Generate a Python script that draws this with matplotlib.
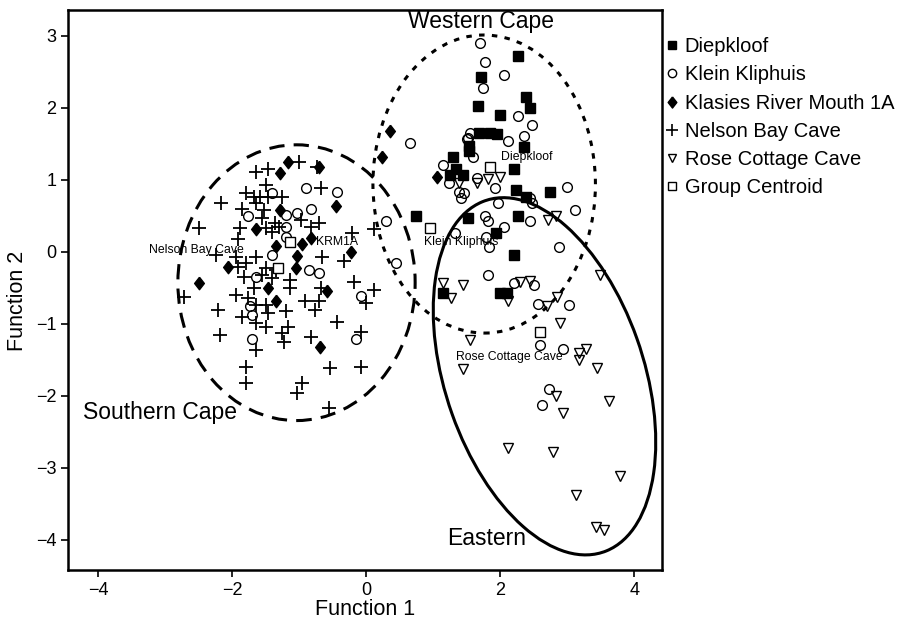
import matplotlib.pyplot as plt
from matplotlib.patches import Ellipse
from matplotlib.lines import Line2D

plt.rcParams['font.family'] = ['Liberation Sans', 'DejaVu Sans']

# Discriminant function scores per site
diep_x = [2.27, 1.71, 2.38, 2.44, 1.67, 2.00, 1.68, 1.85, 1.95, 1.53, 2.35, 1.53, 1.29, 1.34,
          1.25, 1.44, 2.20, 2.24, 2.38, 2.74, 0.75, 1.52, 2.26, 1.94, 2.21, 1.14, 2.00, 2.10]
diep_y = [2.72, 2.42, 2.15, 1.99, 2.03, 1.90, 1.65, 1.65, 1.64, 1.47, 1.46, 1.40, 1.31, 1.15,
          1.07, 1.07, 1.15, 0.86, 0.76, 0.83, 0.49, 0.47, 0.50, 0.26, -0.04, -0.57, -0.58, -0.57]

klein_x = [1.70, 1.77, 2.06, 1.74, 2.26, 2.48, 2.36, 2.12, 0.65, 1.55, 1.52, 1.50, 1.59, 1.14,
           1.23, 1.65, 1.92, 1.38, 1.46, 1.41, 1.97, 2.45, 2.47, 3.00, 0.30, 1.77, 1.82, 2.44,
           2.06, 1.32, 1.79, 1.83, 2.87, 0.45, 1.82, 3.11, 2.21, 2.51, 2.56, 3.02, 2.59, 2.93,
           2.72, 2.62, -0.86, -0.71, -0.08, -0.15, -0.90, -0.44, -0.83, -1.04, -1.19, -1.19,
           -1.41, -1.76, -1.20, -1.41, -1.65, -1.73, -1.71, -1.71]
klein_y = [2.90, 2.64, 2.46, 2.28, 1.88, 1.76, 1.61, 1.54, 1.51, 1.65, 1.58, 1.56, 1.32, 1.21,
           0.96, 1.03, 0.89, 0.83, 0.81, 0.74, 0.68, 0.75, 0.68, 0.90, 0.42, 0.49, 0.43, 0.43,
           0.35, 0.26, 0.21, 0.07, 0.07, -0.15, -0.32, 0.58, -0.43, -0.46, -0.73, -0.74, -1.29,
           -1.35, -1.90, -2.13, -0.25, -0.29, -0.61, -1.21, 0.89, 0.83, 0.60, 0.54, 0.51, 0.35,
           0.82, 0.49, 0.21, -0.04, -0.35, -0.76, -0.88, -1.21]

krm_x = [-1.16, -1.28, -0.71, 0.24, -0.45, -1.28, -0.83, -0.96, -1.35, -0.23, -1.04, -1.05,
         -1.65, -2.06, -2.50, -1.47, -1.34, -0.59, -0.69, 0.35, 1.05]
krm_y = [1.25, 1.10, 1.18, 1.32, 0.64, 0.58, 0.19, 0.11, 0.08, 0.00, -0.06, -0.22,
         0.31, -0.21, -0.44, -0.50, -0.68, -0.55, -1.32, 1.68, 1.04]

nbc_x = [-1.64, -1.46, -1.01, -0.74, -1.49, -0.68, -1.80, -1.68, -1.58, -1.46, -1.26, -2.17,
         -1.64, -1.86, -1.53, -1.55, -0.98, -0.71, -1.36, -0.83, -1.49, -1.30, -2.49, -1.88,
         -1.41, -0.21, 0.12, -1.92, -2.24, -1.94, -1.79, -1.64, -1.91, -1.83, -1.56, -1.49,
         -1.35, -0.66, -0.33, -1.13, -1.41, -0.18, -2.72, -1.95, -2.21, -1.76, -1.65, -1.86,
         -1.50, -1.46, -1.68, -1.14, -0.68, -0.71, -0.77, -0.92, -1.19, 0.12, 0.00, -0.44,
         -1.64, -1.49, -2.18, -1.64, -1.80, -1.80, -1.16, -1.26, -1.23, -0.83, -0.08, -0.54,
         -0.08, -0.96, -1.04, -0.56]
nbc_y = [1.11, 1.15, 1.24, 1.18, 0.93, 0.89, 0.82, 0.76, 0.76, 0.76, 0.76, 0.68,
         0.68, 0.60, 0.58, 0.47, 0.44, 0.40, 0.40, 0.35, 0.33, 0.35, 0.33, 0.33,
         0.28, 0.26, 0.32, 0.17, -0.04, -0.07, -0.15, -0.08, -0.21, -0.35, -0.32, -0.22,
         -0.25, -0.07, -0.13, -0.39, -0.37, -0.42, -0.63, -0.60, -0.81, -0.64, -0.74, -0.90,
         -0.74, -0.85, -0.50, -0.50, -0.50, -0.69, -0.81, -0.69, -0.83, -0.53, -0.71, -0.97,
         -0.99, -1.04, -1.15, -1.36, -1.60, -1.82, -1.04, -1.13, -1.26, -1.18, -1.11, -1.61,
         -1.60, -1.82, -1.96, -2.17]

rcc_x = [1.38, 1.65, 1.82, 2.00, 2.71, 2.83, 1.14, 1.44, 1.26, 2.30, 2.44, 2.11, 2.69, 2.84,
         3.49, 2.89, 1.55, 3.17, 3.28, 3.17, 1.44, 3.44, 2.83, 3.62, 2.93, 2.12, 2.78, 3.79,
         3.13, 3.43, 3.55]
rcc_y = [0.96, 0.96, 1.01, 1.04, 0.44, 0.49, -0.43, -0.46, -0.64, -0.42, -0.40, -0.69, -0.75,
         -0.63, -0.32, -0.99, -1.22, -1.40, -1.35, -1.50, -1.63, -1.61, -2.00, -2.08, -2.24,
         -2.72, -2.78, -3.11, -3.38, -3.83, -3.86]

# Group centroids and their labels
cent_names = ['Diepkloof', 'Klein Kliphuis', 'KRM1A', 'Nelson Bay Cave', 'Rose Cottage Cave']
cent_x = [1.85, 0.95, -1.13, -1.31, 2.60]
cent_y = [1.17, 0.33, 0.14, -0.22, -1.11]

# slightly squat diamond, like the original symbol set
diamond = [(0, 1), (0.78, 0), (0, -1), (-0.78, 0), (0, 1)]

fig = plt.figure(figsize=(8.98, 6.28), dpi=100)
ax = fig.add_axes([0.0757, 0.0924, 0.662, 0.892])

ax.plot(diep_x, diep_y, 's', color='black', ms=7, ls='none')
ax.plot(klein_x, klein_y, 'o', mfc='none', mec='black', mew=1.0, ms=7, ls='none')
ax.plot(krm_x, krm_y, marker=diamond, color='black', ms=9, ls='none')
ax.plot(nbc_x, nbc_y, '+', color='black', ms=10, mew=1.3, ls='none')
ax.plot(rcc_x, rcc_y, 'v', mfc='none', mec='black', mew=1.0, ms=7, ls='none')
ax.plot(cent_x, cent_y, 's', mfc='white', mec='black', mew=1.0, ms=7, ls='none')

# regional groupings
ax.add_patch(Ellipse((-1.04, -0.43), 3.54, 3.83, fill=False, lw=2.2,
                     ls=(0, (5, 3))))
ax.add_patch(Ellipse((1.76, 0.94), 3.32, 4.14, fill=False, lw=2.2,
                     ls=(0, (1.8, 2.4))))
ax.add_patch(Ellipse((2.66, -1.73), 2.95, 5.19, angle=20.9, fill=False, lw=2.2))

ax.text(1.72, 3.11, 'Western Cape', fontsize=16.5, ha='center', va='baseline')
ax.text(-3.08, -2.33, 'Southern Cape', fontsize=16.5, ha='center', va='baseline')
ax.text(1.79, -4.07, 'Eastern', fontsize=16.5, ha='center', va='baseline')

lab_x = [2.39, 1.41, -0.44, -2.54, 2.14]
lab_y = [1.31, 0.14, 0.13, 0.03, -1.46]
for name, lx, ly in zip(cent_names, lab_x, lab_y):
    ax.text(lx, ly, name, fontsize=8.8, ha='center', va='center')

ax.set_xlim(-4.45, 4.42)
ax.set_ylim(-4.42, 3.36)
ax.set_xticks([-4, -2, 0, 2, 4])
ax.set_yticks([3, 2, 1, 0, -1, -2, -3, -4])
ax.tick_params(direction='out', length=5, width=1.2, labelsize=13)
for s in ax.spines.values():
    s.set_linewidth(1.8)
ax.set_xlabel('Function 1', fontsize=15.5, labelpad=0)
ax.set_ylabel('Function 2', fontsize=15.5)
ax.yaxis.set_label_coords(-0.067, 0.48)

handles = [
    Line2D([], [], marker='s', color='black', ls='none', ms=6),
    Line2D([], [], marker='o', mfc='none', mec='black', ls='none', ms=6),
    Line2D([], [], marker=diamond, color='black', ls='none', ms=8),
    Line2D([], [], marker='+', color='black', ls='none', ms=9, mew=1.2),
    Line2D([], [], marker='v', mfc='none', mec='black', ls='none', ms=6),
    Line2D([], [], marker='s', mfc='none', mec='black', ls='none', ms=6),
]
labels = ['Diepkloof', 'Klein Kliphuis', 'Klasies River Mouth 1A', 'Nelson Bay Cave',
          'Rose Cottage Cave', 'Group Centroid']
fig.legend(handles, labels, loc='upper left', bbox_to_anchor=(0.741, 0.941),
           frameon=False, fontsize=14.5, handlelength=0.7, handletextpad=0.25,
           labelspacing=0.46, borderaxespad=0, borderpad=0)

fig.savefig('out.png', dpi=100)
